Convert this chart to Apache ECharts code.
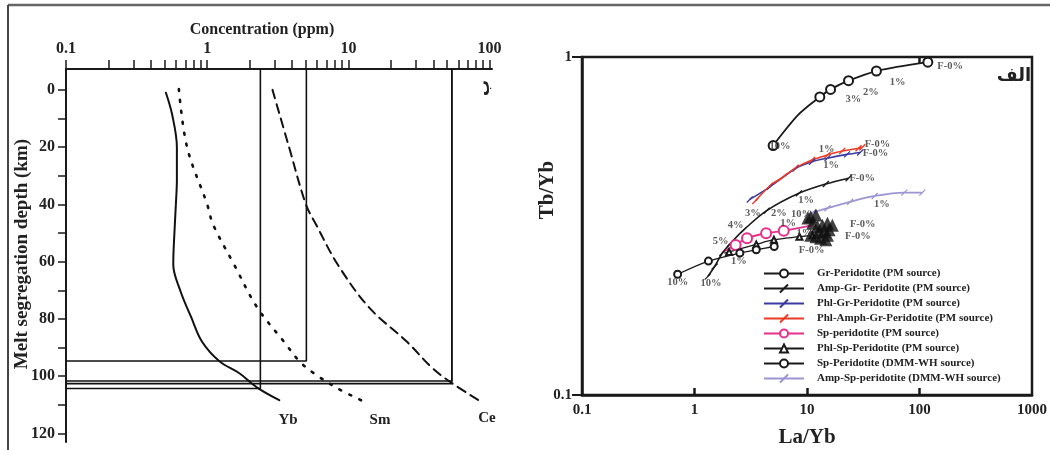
<!DOCTYPE html>
<html>
<head>
<meta charset="utf-8">
<script src="https://cdn.jsdelivr.net/npm/echarts@6/dist/echarts.min.js"></script>
<style>
html,body{margin:0;padding:0;background:#fff;}
#chart{width:1050px;height:450px;}
</style>
</head>
<body>
<div id="chart"></div>
<script>
// ---------- Left panel: concentration vs melt segregation depth ----------
const ybConc  = [0.51, 0.565, 0.61, 0.61, 0.60, 0.59, 0.575, 0.65, 0.77, 0.92, 1.22, 1.69, 2.26, 3.24];
const ybDepth = [1, 8.7, 20, 31.5, 40, 47, 61, 70.6, 79.4, 88, 94.8, 99, 104, 108.4];
const smConc  = [0.63, 0.72, 1.0, 1.1, 1.55, 2.26, 3.5, 4.5, 5.7, 8.2, 13.0];
const smDepth = [-0.3, 20, 40, 47, 61, 76, 88, 94.8, 99, 104, 109];
const ceConc  = [2.9, 3.8, 5.0, 5.9, 8.4, 14.0, 26, 39, 54, 87.5];
const ceDepth = [0, 20, 40, 47, 61, 76, 88, 97, 102.4, 109];
// box (read-off) lines: concentration, depth
const boxConc  = [5.04, 54, 54, 2.38];
const boxDepth = [94.7, 101.7, 102.6, 104.3];
const leftXLabels = [0.1, 1, 10, 100];
const leftXTicks = [0.1,0.2,0.3,0.4,0.5,0.6,0.7,0.8,0.9,1,2,3,4,5,6,7,8,9,10,20,30,40,50,60,70,80,90,100];
const leftYLabels = [0, 20, 40, 60, 80, 100, 120];
const leftYTicks = [0, 10, 20, 30, 40, 50, 60, 70, 80, 90, 100, 110, 120];

// ---------- Right panel: Tb/Yb vs La/Yb ----------
const grX = [118.6, 41.4, 23.4, 16.2, 13.0, 8.3, 5.0];
const grY = [0.965, 0.909, 0.851, 0.802, 0.762, 0.673, 0.547];
const grNoMark = [5];
const ampGrX = [1.31, 1.51, 1.77, 2.09, 2.74, 4.38, 8.46, 14.7, 23.4];
const ampGrY = [0.224, 0.240, 0.263, 0.281, 0.308, 0.351, 0.395, 0.421, 0.438];
const phlGrX = [3.10, 4.69, 7.91, 11.07, 15.2, 22.7, 29.7];
const phlGrY = [0.379, 0.413, 0.468, 0.490, 0.502, 0.515, 0.522];
const phlAmphX = [3.47, 4.69, 6.14, 7.91, 11.07, 15.2, 20.5, 28.7, 31.0];
const phlAmphY = [0.375, 0.416, 0.442, 0.470, 0.496, 0.513, 0.527, 0.537, 0.541];
const spPmX = [1.77, 2.32, 2.93, 4.33, 6.21, 11.2];
const spPmY = [0.265, 0.278, 0.291, 0.301, 0.306, 0.318];
const spPmNoMark = [0, 5];
const phlSpX = [1.84, 2.03, 3.54, 5.08, 8.57, 11.2];
const phlSpY = [0.263, 0.265, 0.279, 0.288, 0.294, 0.297];
const phlSpNoMark = [0];
const spDmmX = [0.708, 1.33, 2.53, 3.54, 5.11];
const spDmmY = [0.2276, 0.249, 0.263, 0.269, 0.275];
const ampSpX = [11.2, 15.2, 24.2, 40.0, 73.2, 105.8];
const ampSpY = [0.346, 0.357, 0.373, 0.388, 0.397, 0.397];
const sampleX = [10.8, 12.0, 11.2, 12.4, 13.7, 15.2, 16.8, 15.7, 14.2, 10.8, 12.0, 13.2, 15.2, 12.8, 14.7, 10.2];
const sampleY = [0.337, 0.341, 0.322, 0.315, 0.318, 0.322, 0.318, 0.308, 0.304, 0.297, 0.294, 0.291, 0.297, 0.304, 0.288, 0.334];
const annText = ['F-0%','1%','2%','3%','10%','F-0%','F-0%','1%','1%','F-0%','1%','1%','3%','2%','10%','4%','1%','F-0%','F-0%','5%','F-0%','1%','10%','10%','1%'];
const annX = [187, 64.0, 37.0, 25.9, 5.75, 42.3, 40.6, 14.96, 16.4, 31.0, 9.8, 46.4, 3.31, 5.61, 8.92, 2.32, 6.78, 31.3, 28.3, 1.71, 11.0, 2.48, 0.708, 1.40, 9.48];
const annY = [0.941, 0.839, 0.789, 0.749, 0.543, 0.552, 0.519, 0.533, 0.479, 0.438, 0.376, 0.367, 0.345, 0.345, 0.343, 0.317, 0.323, 0.320, 0.295, 0.284, 0.2685, 0.248, 0.216, 0.214, 0.301];
const rightXLabels = [0.1, 1, 10, 100, 1000];
const rightYLabels = [0.1, 1];

const SERIF = 'Liberation Serif';
const SLASH = 'path://M0,8L8,0';

function pts(xs, ys, noMark) {
  return xs.map((x, i) => (noMark && noMark.indexOf(i) >= 0) ? {value: [x, ys[i]], symbol: 'none'} : [x, ys[i]]);
}
function modelLine(name, xs, ys, color, symbol, size, noMark, lw) {
  return {
    name: name, type: 'line', xAxisIndex: 1, yAxisIndex: 1,
    data: pts(xs, ys, noMark), smooth: 0.3, symbol: symbol, symbolSize: size,
    showAllSymbol: true,
    lineStyle: {color: color, width: lw || 1.5},
    itemStyle: {color: color, borderColor: color, borderWidth: 1.3},
    z: 3
  };
}
function leftCurve(conc, depth, type, width) {
  return {
    type: 'line', xAxisIndex: 0, yAxisIndex: 0,
    data: conc.map((c, i) => [c, depth[i]]), smooth: 0.35, symbol: 'none',
    lineStyle: {color: '#111', width: width, type: type, cap: 'round'}
  };
}
function boxLine(i) {
  return {
    type: 'line', xAxisIndex: 0, yAxisIndex: 0, symbol: 'none',
    data: [[0.1, boxDepth[i]], [boxConc[i], boxDepth[i]], [boxConc[i], -7.3]],
    lineStyle: {color: '#111', width: 1.6}
  };
}

const chart = echarts.init(document.getElementById('chart'), null, {renderer: 'canvas'});
const labelFont = {fontFamily: SERIF, fontWeight: 'bold', color: '#222'};

const option = {
  animation: false,
  backgroundColor: '#fff',
  grid: [
    {left: 66, top: 69, width: 426, height: 373},
    {left: 582, top: 57, width: 458, height: 338, show: true, borderColor: '#1a1a1a', borderWidth: 2.5, backgroundColor: 'transparent'}
  ],
  xAxis: [
    {gridIndex: 0, type: 'log', position: 'top', min: 0.1, max: 104, logBase: 10,
     axisLine: {onZero: false, lineStyle: {color: '#1a1a1a', width: 2}},
     axisTick: {length: 9, lineStyle: {color: '#1a1a1a', width: 1.5}, customValues: leftXTicks},
     axisLabel: Object.assign({fontSize: 16, margin: 12, customValues: leftXLabels, formatter: v => String(+v.toPrecision(3))}, labelFont),
     splitLine: {show: false}},
    {gridIndex: 1, type: 'log', position: 'bottom', min: 0.1, max: 1000, logBase: 10,
     axisLine: {onZero: false, lineStyle: {color: '#1a1a1a', width: 2.5}},
     axisTick: {inside: true, length: 7, lineStyle: {color: '#1a1a1a', width: 2.5}, customValues: [1, 10, 100]},
     axisLabel: Object.assign({fontSize: 15, margin: 8, customValues: rightXLabels, formatter: v => String(+v.toPrecision(3))}, labelFont),
     splitLine: {show: false}},
    {gridIndex: 1, type: 'log', position: 'top', min: 0.1, max: 1000, logBase: 10,
     axisLine: {show: false, onZero: false},
     axisTick: {inside: true, length: 6, lineStyle: {color: '#1a1a1a', width: 2.5}, customValues: [100]},
     axisLabel: {show: false}, splitLine: {show: false}}
  ],
  yAxis: [
    {gridIndex: 0, type: 'value', inverse: true, min: -7.3, max: 123,
     axisLine: {onZero: false, lineStyle: {color: '#1a1a1a', width: 2}},
     axisTick: {length: 8, lineStyle: {color: '#1a1a1a', width: 1.5}, customValues: leftYTicks},
     axisLabel: Object.assign({fontSize: 16, margin: 11, customValues: leftYLabels}, labelFont),
     splitLine: {show: false}},
    {gridIndex: 1, type: 'log', min: 0.1, max: 1, logBase: 10,
     axisLine: {onZero: false, lineStyle: {color: '#1a1a1a', width: 2.5}},
     axisTick: {length: 10, lineStyle: {color: '#1a1a1a', width: 2}, customValues: rightYLabels},
     axisLabel: Object.assign({fontSize: 15, margin: 10, customValues: rightYLabels, formatter: v => String(+v.toPrecision(3))}, labelFont),
     splitLine: {show: false}}
  ],
  legend: {
    orient: 'vertical', left: 758, top: 263, itemWidth: 40, itemHeight: 10, itemGap: 4,
    selectedMode: false,
    textStyle: {fontFamily: SERIF, fontWeight: 'bold', fontSize: 11, color: '#222', padding: [0, 0, 0, 8]},
    data: ['Gr-Peridotite (PM source)', 'Amp-Gr- Peridotite (PM source)', 'Phl-Gr-Peridotite (PM source)',
           'Phl-Amph-Gr-Peridotite (PM source)', 'Sp-peridotite (PM source)', 'Phl-Sp-Peridotite (PM source)',
           'Sp-Peridotite (DMM-WH source)', 'Amp-Sp-peridotite (DMM-WH source)']
  },
  series: [
    leftCurve(ybConc, ybDepth, 'solid', 2),
    leftCurve(smConc, smDepth, [2, 9], 2.6),
    leftCurve(ceConc, ceDepth, [9, 6], 2),
    boxLine(0), boxLine(1), boxLine(2), boxLine(3),
    modelLine('Gr-Peridotite (PM source)', grX, grY, '#1a1a1a', 'emptyCircle', 9, grNoMark, 1.8),
    modelLine('Amp-Gr- Peridotite (PM source)', ampGrX, ampGrY, '#1a1a1a', SLASH, 6, null, 1.6),
    modelLine('Phl-Gr-Peridotite (PM source)', phlGrX, phlGrY, '#3a3aa0', SLASH, 6, null, 1.6),
    modelLine('Phl-Amph-Gr-Peridotite (PM source)', phlAmphX, phlAmphY, '#ec3a26', SLASH, 6, null, 1.6),
    modelLine('Sp-peridotite (PM source)', spPmX, spPmY, '#e6308c', 'emptyCircle', 10, spPmNoMark, 1.8),
    modelLine('Phl-Sp-Peridotite (PM source)', phlSpX, phlSpY, '#1a1a1a', 'emptyTriangle', 6, phlSpNoMark, 1.3),
    modelLine('Sp-Peridotite (DMM-WH source)', spDmmX, spDmmY, '#1a1a1a', 'emptyCircle', 7, null, 1.3),
    modelLine('Amp-Sp-peridotite (DMM-WH source)', ampSpX, ampSpY, '#9b96d3', SLASH, 6, null, 1.8),
    {type: 'scatter', xAxisIndex: 1, yAxisIndex: 1, symbol: 'triangle', symbolSize: 13,
     itemStyle: {color: '#111'}, data: sampleX.map((x, i) => [x, sampleY[i]]), z: 5},
    {type: 'scatter', xAxisIndex: 1, yAxisIndex: 1, symbolSize: 0, silent: true, z: 6,
     label: {show: true, position: 'inside', formatter: p => p.name, fontFamily: SERIF, fontWeight: 'bold', fontSize: 10.5, color: '#333'},
     data: annText.map((t, i) => ({name: t, value: [annX[i], annY[i]]}))}
  ],
  graphic: [
    {type: 'line', shape: {x1: 8, y1: 5, x2: 1050, y2: 5}, style: {stroke: '#666', lineWidth: 2.5}},
    {type: 'line', shape: {x1: 8, y1: 5, x2: 8, y2: 450}, style: {stroke: '#444', lineWidth: 2}},
    {type: 'text', x: 262, y: 30, style: {text: 'Concentration (ppm)', textAlign: 'center', textVerticalAlign: 'middle', font: 'bold 16px "Liberation Serif"', fill: '#222'}},
    {type: 'text', x: 22, y: 254, rotation: Math.PI / 2, style: {text: 'Melt segregation depth (km)', textAlign: 'center', textVerticalAlign: 'middle', font: 'bold 19px "Liberation Serif"', fill: '#222'}},
    {type: 'text', x: 288, y: 420, style: {text: 'Yb', textAlign: 'center', textVerticalAlign: 'middle', font: 'bold 15px "Liberation Serif"', fill: '#222'}},
    {type: 'text', x: 380, y: 420, style: {text: 'Sm', textAlign: 'center', textVerticalAlign: 'middle', font: 'bold 15px "Liberation Serif"', fill: '#222'}},
    {type: 'text', x: 487, y: 418, style: {text: 'Ce', textAlign: 'center', textVerticalAlign: 'middle', font: 'bold 15px "Liberation Serif"', fill: '#222'}},
    {type: 'text', x: 485, y: 88, rotation: Math.PI / 2, style: {text: 'ب', textAlign: 'center', textVerticalAlign: 'middle', font: 'bold 16px "DejaVu Sans"', fill: '#222'}},
    {type: 'text', x: 807, y: 438, style: {text: 'La/Yb', textAlign: 'center', textVerticalAlign: 'middle', font: 'bold 21px "Liberation Serif"', fill: '#222'}},
    {type: 'text', x: 548, y: 190, rotation: Math.PI / 2, style: {text: 'Tb/Yb', textAlign: 'center', textVerticalAlign: 'middle', font: 'bold 21px "Liberation Serif"', fill: '#222'}},
    {type: 'text', x: 1014, y: 76, style: {text: 'الف', textAlign: 'center', textVerticalAlign: 'middle', font: 'bold 18px "DejaVu Sans"', fill: '#222'}}
  ]
};
chart.setOption(option);
</script>
</body>
</html>
